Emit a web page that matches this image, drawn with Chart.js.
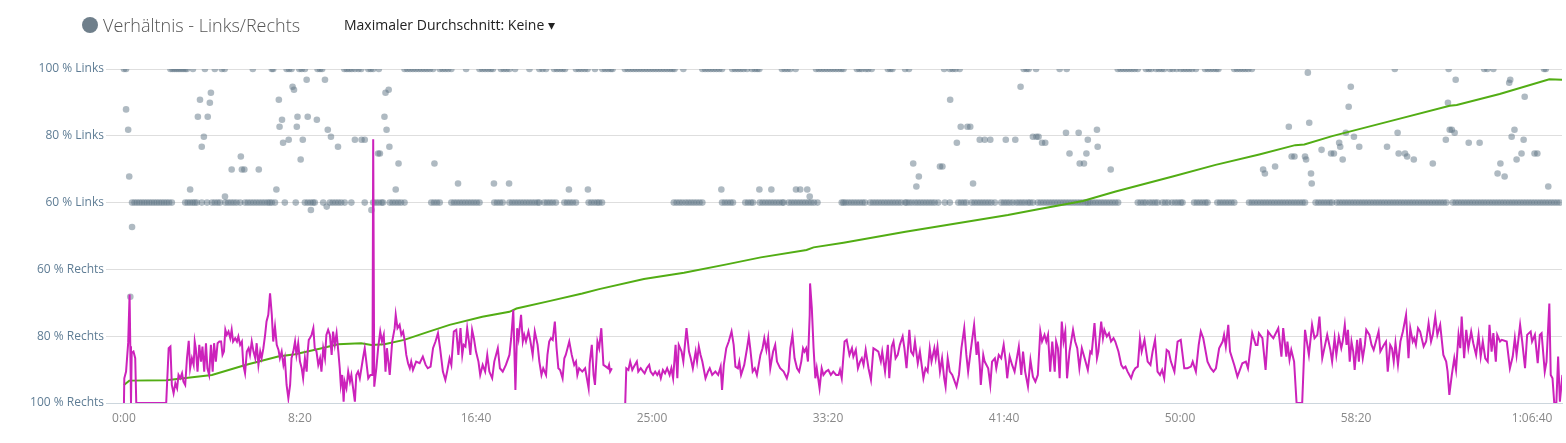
<!DOCTYPE html>
<html>
<head>
<meta charset="utf-8">
<script src="https://cdn.jsdelivr.net/npm/chart.js@4"></script>
<style>
  html, body { margin: 0; padding: 0; background: #fff; }
  #wrap { position: relative; width: 1566px; height: 443px; overflow: hidden; }
  #chart { position: absolute; left: 0; top: 0; }
  .head { position: absolute; top: 11px; left: 82px; height: 28px; display: flex; align-items: center; font-family: "Open Sans", sans-serif; }
  .dot { width: 16px; height: 16px; border-radius: 50%; background: #6f7f8b; margin-right: 5px; }
  .title { font-size: 18px; font-weight: 300; color: #555; }
  .avg { position: absolute; top: 15px; left: 344px; font-family: "Open Sans", sans-serif; font-size: 14px; color: #222; }
</style>
</head>
<body>
<div id="wrap">
  <canvas id="chart" width="1566" height="443"></canvas>
  <div class="head"><div class="dot"></div><span class="title">Verhältnis - Links/Rechts</span></div>
  <div class="avg">Maximaler Durchschnitt: Keine ▾</div>
</div>
<script>
// ============================================================
// DATA (time in seconds, value = share of left leg in %)
// ============================================================
const xTicks = [0, 500, 1000, 1500, 2000, 2500, 3000, 3500, 4000];
const yTicks = [0, 20, 40, 60, 80, 100];
const yTickLabels = ['100 % Rechts', '80 % Rechts', '60 % Rechts', '60 % Links', '80 % Links', '100 % Links'];

// balance samples sitting on 100 % Links
const dots100 = [0,6,132,138,144,150,156,162,168,174,179,196,230,258,278,286,366,420,424,462,469,476,498,505,514,550,557,563,626,633,640,647,656,
  666,674,694,701,708,724,797,805,813,821,829,837,845,853,861,869,878,897,905,913,921,930,972,1010,1018,1026,1034,1042,1048,1071,1079,1087,1095,1111,1152,1180,1189,1199,1222,1230,1238,1246,1253,1284,1292,1300,1309,1317,1338,
  1359,1367,1375,1383,1388,1423,1431,1439,1447,1455,1463,1471,1479,1487,1495,1503,1511,1519,1527,1535,1543,1551,1558,1564,1589,1643,1651,1659,1667,1675,1683,1691,1699,1728,1736,1744,1752,1760,1770,1784,1792,1799,1805,1869,1877,1885,1893,1908,1966,1974,1982,1990,1998,2006,2014,2022,2030,2038,2044,
  2082,2089,2096,2107,2114,2124,2170,2177,2183,2219,2230,2330,2346,2354,2362,2374,2556,2564,2570,2591,2658,2678,
  2823,2831,2839,2847,2855,2863,2871,2880,2903,2911,2918,2932,2940,2948,2955,2971,2979,2990,3002,3010,3018,3026,3034,3045,3071,3079,3087,3095,3103,3109,3154,3162,3170,3178,3186,3194,3204,
  3610,3763,3864,3873,3890,4034,4039];

// balance samples sitting on 60 % Links
const dots60 = [23,30,37,44,51,58,65,72,79,86,93,100,107,114,121,128,136,174,181,188,195,201,207,221,236,250,258,266,273,288,296,304,312,320,330,344,352,360,368,376,384,392,400,408,414,420,429,457,488,514,522,530,537,542,566,585,593,601,609,617,627,646,
  684,708,716,724,732,736,755,763,771,779,787,797,873,881,889,897,930,938,946,954,962,970,978,986,994,1002,1010,1052,1060,1068,1076,1095,1103,1111,1119,1127,1135,1143,1151,1159,1167,1175,1180,1194,1202,1210,1218,1227,1251,1259,1267,1275,1284,1320,1328,1336,1344,1350,1358,
  1562,1570,1578,1586,1595,1603,1611,1619,1627,1635,1643,1699,1707,1715,1723,1730,1765,1773,1781,1787,1806,1814,1822,1830,1838,1846,1854,1862,1870,1874,1888,1896,1904,1912,1920,1928,1936,1944,1952,1960,1970,2039,2044,
  2050,2058,2066,2074,2082,2090,2098,2105,2120,2128,2136,2144,2152,2160,2168,2176,2184,2192,2200,2208,2219,2223,2230,2238,2247,2255,2263,2271,2279,2287,2295,2303,2313,2332,2346,2370,2378,2386,2393,2408,2416,2424,2432,2440,2448,2456,2464,2474,2492,2500,2508,2516,2525,2535,2543,2551,2559,2568,2574,2582,2596,2604,2612,2620,2628,2636,2644,2652,2660,2668,2676,2684,2692,2700,2708,2716,2724,2732,2738,
  2744,2752,2760,2768,2776,2784,2792,2800,2808,2816,2824,2880,2888,2896,2903,2913,2921,2929,2936,2950,2958,2966,2977,2986,2994,3002,3007,3040,3048,3056,3064,3072,3078,3106,3114,3122,3130,3138,3146,3154,
  3196,3204,3212,3220,3228,3236,3244,3252,3260,3268,3276,3284,3292,3300,3308,3316,3324,3332,3340,3348,3355,3385,3393,3401,3409,3417,3425,3432,
  3445,3453,3461,3469,3477,3485,3493,3501,3509,3517,3525,3533,3541,3549,3557,3565,3573,3581,3589,3597,3605,3613,3621,3629,3637,3645,3653,3661,3669,3677,3685,3693,3701,3709,3717,3725,3733,3741,3749,3757,
  3775,3783,3791,3799,3807,3815,3823,3831,3839,3847,3855,3863,3871,3879,3887,3895,3903,3911,3919,3927,3935,3943,3951,3959,3967,3975,3983,3991,3999,4007,4015,4023,4031,4039,4047,4055,4063,4071,4079];

// the remaining balance samples [time, value]
const dotsOther = [[6,87.9],[12,81.8],[15,67.8],[18,31.8],[23,52.7],[188,63.9],[210,85.7],[216,90.8],[221,76.7],[227,79.7],[238,85.7],[244,89.9],[247,92.9],[287,61.8],[306,69.9],[332,73.8],[335,69.9],[342,69.9],[383,69.9],[433,63.9],[440,90.8],[442,82.7],[449,84.8],[452,77.9],[468,78.8],[479,94.7],[483,93.8],[491,82.7],[493,85.7],[502,72.9],[508,78.8],[519,96.8],[522,85.7],[531,57.8],[548,84.8],[571,96.8],[576,58.8],[579,81.8],[588,79.7],[608,76.7],[656,78.8],[675,78.8],[684,78.8],[703,57.8],[722,74.7],[727,74.7],[740,85.7],[743,92.9],[746,81.8],[752,93.8],[754,76.7],[772,63.9],[780,71.7],[882,71.7],[949,65.7],[1051,65.7],[1094,65.7],[1264,63.9],[1318,63.9],
  [1697,63.9],[1805,63.9],[1839,63.9],[1909,63.9],[1921,63.9],[1941,63.9],[1948,61.8],[2242,71.7],[2251,64.8],[2258,67.8],[2318,70.8],[2325,70.8],[2347,90.8],[2366,77.9],[2377,82.7],[2396,82.7],[2404,82.7],[2412,65.7],[2431,78.8],[2445,78.8],[2461,78.8],[2505,78.8],[2532,78.8],[2547,94.7],[2582,79.7],[2592,79.7],[2598,79.7],[2608,77.9],[2617,77.9],[2676,80.9],[2686,74.7],[2712,80.9],[2715,71.7],[2727,71.7],[2734,74.7],[2738,78.8],[2764,81.8],[2766,76.7],[2803,69.9],
  [3236,69.9],[3241,68.7],[3270,70.8],[3309,82.7],[3317,73.8],[3325,73.8],[3355,73.8],[3358,72.9],[3363,98.9],[3367,83.9],[3372,68.7],[3374,65.7],[3402,75.8],[3429,74.7],[3437,74.7],[3452,77.9],[3455,76.7],[3462,72.9],[3471,80.9],[3479,88.7],[3485,94.7],[3494,79.7],[3509,76.7],[3588,76.7],[3618,80.9],[3621,74.7],[3639,74.7],[3645,73.8],[3664,72.9],[3718,71.7],[3755,78.8],[3761,89.9],[3766,81.8],[3772,81.8],[3780,80.9],[3783,96.8],[3820,77.9],[3851,77.9],[3902,68.7],[3910,71.7],[3922,67.8],[3935,95.9],[3938,96.8],[3942,79.7],[3950,81.8],[3956,72.9],[3970,74.7],[3976,78.8],[3979,91.7],[4007,74.7],[4015,74.7],[4046,64.8]];

// running average (green)
const avgLeft = [[0,5.4],[15,6.7],[120,6.8],[250,8.4],[345,11.4],[438,13.9],[486,14.6],[562,16.4],[608,17.6],[656,17.8],[674,17.9],[703,17.4],[740,17.6],[796,18.9],[864,21.3],[925,23.4],[1018,25.8],[1095,27.3],[1115,28.3],[1208,30.5],[1302,32.8],[1350,34.1],[1477,37.1],[1591,39.0],[1712,41.5],[1809,43.6],[1939,45.8],[1959,46.6],[2044,48.0],[2220,51.3],[2407,54.5],[2511,56.3],[2597,58.0],[2724,60.5],[2817,63.3],[2979,67.8],[3101,71.3],[3225,74.4],[3327,77.2],[3353,77.4],[3432,79.9],[3608,84.7],[3766,89.0],[3786,89.2],[3908,92.5],[4049,96.9],[4086,96.8]];

// smoothed balance (magenta)
const balance = [[0,0],[1,7.4],[6,9.4],[12,18],[16,32.5],[18,17],[20,0],[22,15],[27,15.4],[32,13.4],[35,0],[120,0],[127,16.4],[132,16.9],[136,5.4],[141,2.9],[146,5.9],[151,4.4],[155,8.4],[160,7.4],[165,8.9],[169,6.4],[174,5.4],[179,13.4],[184,18.6],[188,10.4],[193,13.4],[198,11.4],[201,18.4],[204,16.4],[209,9.4],[214,17.4],[219,12.4],[223,16.9],[228,9.4],[233,17.9],[237,10.4],[242,8.4],[247,17.4],[252,9.4],[256,17.9],[261,12.4],[266,17.9],[271,18.4],[276,18.4],[280,14.4],[284,15.4],[288,21.9],[292,20.4],[297,21.4],[302,19.4],[306,21.9],[310,18.4],[316,19.4],[321,18.4],[325,19.9],[330,17.4],[335,18.4],[339,11.4],[344,8.9],[349,15.4],[354,16.4],[358,14.4],[363,18.4],[368,15.4],[373,13.4],[377,17.9],[382,11.4],[387,15.4],[391,13.4],[396,16.4],[401,20.4],[405,24.4],[410,26.4],[415,32.8],[420,26.4],[424,18.4],[429,22.9],[434,17.4],[439,15.9],[443,13.4],[448,15.4],[453,11.4],[457,13.4],[462,5.4],[467,1.4],[472,5.4],[476,13.4],[481,15.4],[486,18.4],[490,14.4],[495,17.9],[500,12.4],[505,10.4],[509,7.4],[514,13.4],[519,9.4],[522,15.4],[525,18.9],[528,19.4],[533,20.4],[538,22.4],[542,16.4],[547,15.4],[552,11.4],[557,13.4],[561,9.4],[566,16.4],[571,13.4],[575,20.4],[580,21.9],[585,20.4],[590,14.4],[594,21.4],[599,17.4],[604,20.9],[609,15.4],[613,10.4],[616,5.4],[620,8.4],[624,0.4],[627,6.4],[632,4.4],[637,9.4],[642,6.4],[646,8.4],[651,4.4],[656,0.4],
  [660,8.4],[665,9.4],[670,7.4],[679,13.4],[684,16.4],[694,7.4],[700,8.4],[706,8.4],[708,79],[711,4.9],[717,10.4],[722,16.4],[728,21.4],[733,18.4],[738,20.4],[743,9.4],[747,16.4],[755,8.4],[762,18.4],[769,22.4],[772,26.4],[777,22.4],[783,23.4],[788,20.4],[793,21.4],[797,18.9],[802,14.4],[807,11.9],[812,10.4],[816,12.4],[821,9.9],[830,12.4],[840,11.9],[849,13.9],[857,11.4],[863,10.4],[871,10.9],[878,16.4],[885,18.4],[892,20.9],[898,16.4],[906,9.4],[913,6.9],[918,9.4],[925,13.4],[930,11.4],[937,21.4],[944,21.9],[950,14.4],[956,22.4],[961,14.4],[965,17.4],[970,16.9],[975,22.4],[980,18.4],[984,14.4],[989,21.9],[994,19.4],[1000,15.4],[1007,12.4],[1012,8.4],[1019,11.4],[1026,9.4],[1032,14.4],[1038,9.4],[1046,7.4],[1052,12.4],[1062,16.4],[1068,10.4],[1076,9.4],[1085,11.4],[1095,14.4],[1100,19.4],[1106,27.8],[1112,3.9],[1117,22.4],[1121,19.4],[1128,26.4],[1133,18.4],[1137,20.4],[1142,18.4],[1149,21.4],[1154,18.9],[1161,14.4],[1167,21.4],[1175,17.4],[1180,12.4],[1186,8.4],[1191,10.4],[1199,8.4],[1203,14.4],[1208,18.4],[1213,19.4],[1218,18.9],[1224,24.4],[1229,16.4],[1234,10.4],[1239,9.9],[1246,7.4],[1251,13.4],[1255,14.4],[1265,18.4],[1272,14.4],[1279,11.4],[1284,12.4],[1288,8.4],[1293,10.4],[1302,9.4],[1310,10.4],[1320,4.4],[1323,11.9],[1329,17.4],[1334,8.4],[1338,5.4],[1345,18.4],[1350,16.4],
  [1356,22.4],[1362,11.4],[1369,10.9],[1375,10.4],[1378,11.4],[1381,9.4],[1386,10.4],[1400,null],[1424,0],[1427,10.4],[1433,9.9],[1438,12.4],[1444,9.9],[1449,10.9],[1457,12.4],[1461,9.4],[1468,10.4],[1475,9.4],[1479,8.9],[1485,10.4],[1492,11.4],[1496,9.4],[1503,8.4],[1509,9.4],[1515,8.4],[1520,9.4],[1525,7.4],[1531,9.9],[1537,8.9],[1543,10.4],[1550,8.4],[1555,10.4],[1560,7.4],[1567,17.4],[1572,7.4],[1576,17.4],[1584,15.4],[1589,12.4],[1598,22.4],[1605,15.4],[1610,13.4],[1616,10.4],[1624,15.4],[1628,12.4],[1633,16.9],[1638,14.4],[1643,12.4],[1652,7.4],[1659,9.4],[1664,10.4],[1671,8.4],[1680,9.4],[1688,8.4],[1695,10.9],[1699,3.9],[1704,11.4],[1711,16.4],[1718,18.4],[1726,21.4],[1732,17.4],[1737,10.9],[1744,10.4],[1748,12.4],[1753,8.4],[1762,11.4],[1770,16.4],[1775,19.9],[1779,16.4],[1786,9.4],[1792,10.4],[1798,8.4],[1808,14.4],[1814,16.4],[1819,19.4],[1825,15.9],[1830,19.4],[1836,10.4],[1844,15.4],[1850,17.4],[1855,12.4],[1864,10.4],[1874,9.4],[1883,7.4],[1888,9.4],[1893,16.4],[1899,20.4],[1905,13.4],[1912,10.4],[1918,9.4],[1924,12.4],[1929,16.4],[1933,15.4],[1938,16.4],[1943,12.4],[1948,26.4],[1949,35.8],[1954,28.4],[1959,16.4],[1964,7.4],[1968,10.4],[1976,4.4],[1982,10.4],[1987,8.4],[1994,9.4],[2001,9.9],[2008,8.4],[2015,9.4],[2023,8.4],[2030,8.4],[2034,9.9],
  [2039,7.4],[2047,18.4],[2053,18.9],[2061,14.4],[2068,16.4],[2072,13.9],[2079,15.9],[2085,10.4],[2091,12.4],[2096,13.4],[2101,11.4],[2107,15.9],[2115,10.4],[2122,6.9],[2129,16.4],[2136,15.9],[2143,15.4],[2150,12.4],[2154,15.4],[2162,9.4],[2170,17.4],[2174,7.4],[2181,16.9],[2186,18.4],[2192,13.4],[2198,14.4],[2204,17.4],[2212,19.9],[2217,16.4],[2223,10.4],[2231,21.9],[2236,15.4],[2242,14.4],[2247,18.4],[2255,11.9],[2261,15.4],[2271,7.4],[2277,10.4],[2283,9.4],[2289,16.4],[2294,12.4],[2302,16.4],[2306,13.4],[2311,16.9],[2318,9.4],[2324,13.4],[2330,7.4],[2334,4.9],[2340,13.4],[2346,9.4],[2353,8.4],[2360,6.4],[2365,4.9],[2372,8.4],[2379,16.4],[2387,22.4],[2393,14.4],[2398,9.4],[2405,15.4],[2415,23.4],[2422,14.4],[2426,18.4],[2431,11.4],[2434,5.4],[2441,14.4],[2445,12.4],[2455,10.4],[2461,5.4],[2466,12.4],[2474,13.4],[2478,10.4],[2485,14.4],[2492,13.4],[2499,17.4],[2505,12.4],[2509,7.4],[2516,13.9],[2523,11.4],[2530,9.4],[2542,16.9],[2549,8.4],[2554,15.4],[2560,9.4],[2568,4.9],[2575,12.9],[2582,7.9],[2589,6.4],[2596,8.4],[2603,21.4],[2608,18.4],[2615,20.4],[2620,18.4],[2625,20.4],[2631,9.4],[2637,18.4],[2644,9.4],[2648,18.4],[2653,16.4],[2658,7.4],[2664,24.4],[2669,18.4],[2674,21.4],[2679,7.4],[2686,15.4],[2696,21.9],[2702,18.4],[2708,16.4],[2714,10.4],[2721,16.4],[2729,13.4],
  [2738,9.9],[2745,15.4],[2749,14.9],[2757,23.9],[2764,13.4],[2768,15.4],[2776,24.4],[2781,19.4],[2785,21.9],[2792,19.9],[2798,20.9],[2804,18.4],[2811,19.4],[2816,18.4],[2825,15.4],[2833,11.4],[2839,10.4],[2845,10.9],[2851,9.4],[2861,7.4],[2867,9.4],[2873,10.4],[2880,10.9],[2886,19.4],[2891,15.4],[2899,18.9],[2908,12.4],[2916,11.4],[2922,15.4],[2929,18.9],[2936,9.4],[2943,8.4],[2949,9.9],[2955,7.4],[2962,15.9],[2968,15.4],[2974,12.4],[2984,9.4],[2993,18.4],[3002,18.9],[3012,10.4],[3021,10.4],[3031,10.9],[3036,12.4],[3045,9.4],[3053,17.4],[3059,21.4],[3066,19.4],[3078,12.4],[3087,10.4],[3095,9.4],[3102,10.4],[3111,16.4],[3121,18.4],[3125,20.4],[3130,16.9],[3137,23.4],[3142,15.4],[3154,11.4],[3163,7.9],[3177,11.9],[3187,12.4],[3193,10.4],[3205,20.9],[3215,17.4],[3220,17.4],[3224,20.9],[3234,19.4],[3243,9.9],[3250,21.4],[3257,20.4],[3265,19.4],[3279,22.4],[3288,13.9],[3293,22.4],[3302,13.9],[3305,18.4],[3311,12.9],[3316,15.9],[3324,12.4],[3331,0],[3347,0],[3355,21.9],[3366,14.4],[3375,23.4],[3382,19.4],[3390,20.4],[3396,25.9],[3404,13.4],[3418,20.4],[3427,15.9],[3432,12.4],
  [3439,19.4],[3444,14.4],[3451,19.9],[3458,16.4],[3462,18.4],[3468,23.4],[3473,17.4],[3477,21.9],[3482,12.4],[3487,18.4],[3492,15.4],[3496,9.9],[3503,18.9],[3508,12.4],[3512,19.4],[3519,13.4],[3525,17.4],[3529,21.9],[3538,20.4],[3544,17.4],[3550,15.9],[3564,21.4],[3569,15.4],[3579,17.4],[3585,18.4],[3590,9.4],[3597,17.4],[3602,16.4],[3607,12.4],[3612,17.9],[3619,11.4],[3626,18.4],[3633,21.4],[3642,26.4],[3649,13.4],[3654,22.4],[3661,18.4],[3665,19.4],[3670,17.4],[3676,22.4],[3682,21.4],[3692,16.9],[3699,18.4],[3706,23.9],[3713,18.4],[3718,20.4],[3725,25.9],[3731,20.4],[3739,23.4],[3748,14.4],[3756,12.4],[3760,9.4],[3765,2.4],[3772,8.4],[3779,13.4],[3784,9.9],[3791,20.4],[3796,16.4],[3800,25.9],[3807,13.4],[3813,21.9],[3819,16.4],[3827,21.4],[3833,17.9],[3841,14.4],[3848,20.4],[3854,13.9],[3860,18.4],[3867,13.4],[3874,12.4],[3879,23.4],[3885,15.4],[3890,20.9],[3897,12.4],[3901,20.4],[3909,18.4],[3914,18.9],[3928,18.4],[3937,10.4],[3945,13.9],[3951,19.4],[3956,14.4],[3966,23.4],[3972,18.4],[3980,10.4],[3986,20.4],[3996,21.4],[4000,18.4],[4008,20.4],[4016,11.9],[4022,20.4],[4027,20.9],[4036,9.4],[4041,12.4],[4049,29.8],[4053,8.4],[4058,7.4],[4063,0],[4069,0],[4074,13.9],[4079,0.4],[4086,8.4]];

// ============================================================
// CHART
// ============================================================
function fmtTime(s) {
  const h = Math.floor(s / 3600), m = Math.floor((s % 3600) / 60), sec = s % 60;
  const pad = n => String(n).padStart(2, '0');
  return h ? h + ':' + pad(m) + ':' + pad(sec) : m + ':' + pad(sec);
}

const dotPoints = [
  ...dots100.map(t => ({ x: t, y: 100 })),
  ...dots60.map(t => ({ x: t, y: 60 })),
  ...dotsOther.map(([t, v]) => ({ x: t, y: v }))
];

const ctx = document.getElementById('chart').getContext('2d');
new Chart(ctx, {
  type: 'line',
  data: {
    datasets: [
      { type: 'scatter', label: 'Verhältnis', data: dotPoints, pointRadius: 3.3, pointBorderWidth: 0, backgroundColor: 'rgba(96,118,134,0.5)', order: 3 },
      { label: 'Durchschnitt', data: avgLeft, borderColor: '#52ad14', borderWidth: 2, pointRadius: 0, tension: 0, order: 2 },
      { label: 'Balance', data: balance, borderColor: '#cc22bb', borderWidth: 2, pointRadius: 0, tension: 0, spanGaps: false, order: 1 }
    ]
  },
  options: {
    responsive: false,
    animation: false,
    devicePixelRatio: 1,
    layout: { padding: { top: 69, right: 0, bottom: 0, left: 0 } },
    plugins: { legend: { display: false }, tooltip: { enabled: false } },
    scales: {
      x: {
        type: 'linear', min: -51, max: 4085,
        afterBuildTicks: s => { s.ticks = xTicks.map(v => ({ value: v })); },
        afterFit: s => { s.height = 40; },
        grid: { display: false, drawTicks: false },
        border: { display: true, color: '#ccd6dd' },
        ticks: { padding: 8, maxRotation: 0, color: '#888', font: { family: 'Open Sans', size: 12 }, callback: v => fmtTime(v) }
      },
      y: {
        min: 0, max: 100,
        afterBuildTicks: s => { s.ticks = yTicks.map(v => ({ value: v })); },
        afterFit: s => { s.width = 106; },
        grid: { color: '#dedede', drawTicks: false },
        border: { display: false },
        ticks: { padding: 2, color: '#5f7d95', font: { family: 'Open Sans', size: 12 }, callback: v => yTickLabels[yTicks.indexOf(v)] }
      }
    }
  }
});
</script>
</body>
</html>
